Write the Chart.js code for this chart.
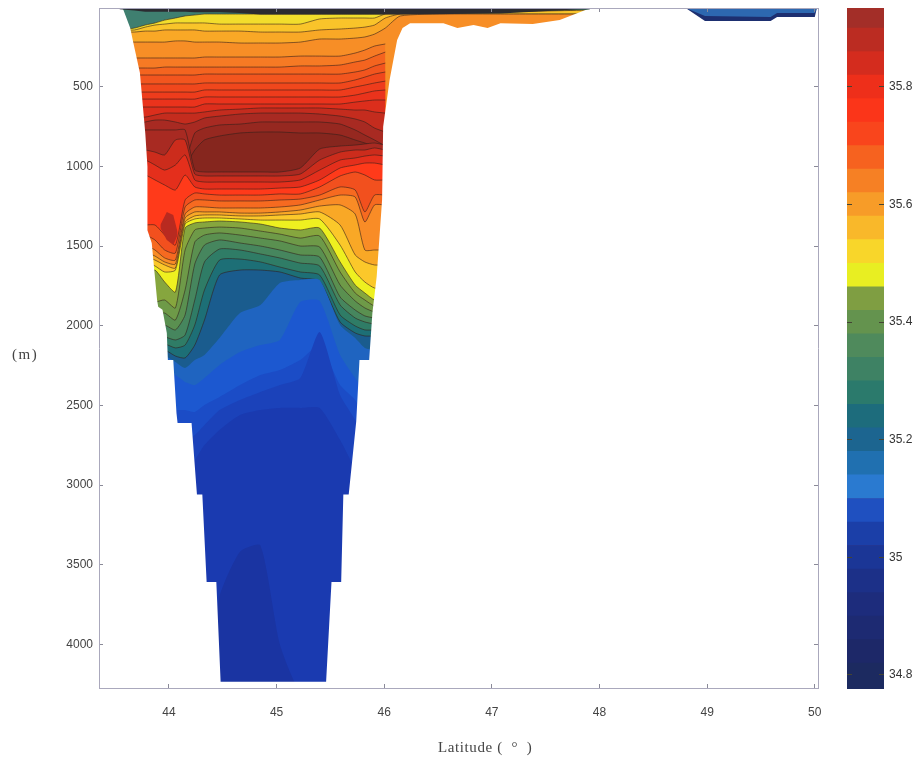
<!DOCTYPE html>
<html>
<head>
<meta charset="utf-8">
<title>Salinity section</title>
<script src="https://cdn.jsdelivr.net/npm/chart.js@4/dist/chart.umd.min.js"></script>
<style>
  html, body { margin: 0; padding: 0; background: #fff; }
  #page { position: relative; width: 919px; height: 760px; overflow: hidden; background: #fff; filter: blur(0.55px); }
  #section { position: absolute; left: 0; top: 0; }
  #scalebar { position: absolute; left: 847px; top: 0; }
  #depthLabel { position: absolute; left: 12px; top: 346px; font: 15px "Liberation Serif", serif; letter-spacing: 1.5px; color: #444; }
  #latLabel { position: absolute; left: 438px; top: 739px; font: 15px "Liberation Serif", serif; letter-spacing: 0.6px; white-space: pre; color: #444; }
</style>
</head>
<body>
<div id="page">
  <canvas id="section" width="919" height="760"></canvas>
  <canvas id="scalebar" width="72" height="760"></canvas>
  <span id="depthLabel">(m)</span>
  <span id="latLabel">Latitude (  °  )</span>
</div>
<script>
// axis ticks
const latTicks = [44, 45, 46, 47, 48, 49, 50];
const depthTicks = [500, 1000, 1500, 2000, 2500, 3000, 3500, 4000];
const salinityTicks = [34.8, 35, 35.2, 35.4, 35.6, 35.8];

// latitude of the sampled columns
const lats = [43.54,43.68,43.78,43.87,43.96,44.06,44.15,44.24,44.33,44.47,44.66,44.85,45.03,45.22,45.40,45.59,45.73,45.82,45.91,46.01,46.15,46.61,47.08,47.91];

// depth (m) of the top of each band, read from the section, surface to bottom
const teal = [0,0,0,0,0,0,0,0,0,0,0,0,0,0,0,0,0,0,0,0,0,0,0,0];
const lens1 = [142,130,111,98,80,67,54,48,42,42,42,42,42,42,42,42,42,42,42,42,42,36,29,17];
const lens2 = [142,142,124,111,105,98,98,98,98,105,105,105,105,105,73,67,67,67,67,42,42,36,29,17];
const orange1 = [155,155,149,149,142,142,142,142,149,149,149,155,155,155,142,136,130,124,111,67,42,42,42,42];
const orange2 = [218,218,218,218,218,211,211,218,218,218,224,224,224,218,199,199,193,186,168,130,54,42,42,42];
const orange3 = [318,318,318,318,318,318,318,318,312,312,312,312,312,306,306,306,287,268,243,230];
const red1 = [381,381,381,381,375,375,375,375,375,375,375,375,375,368,368,362,343,331,306,281];
const red2 = [425,425,425,425,425,425,425,425,419,419,419,419,419,419,419,419,406,393,368,350];
const red3 = [481,481,481,481,481,481,481,481,475,475,475,475,475,475,475,475,456,438,419,406];
const red4 = [532,532,532,532,532,532,532,532,519,519,519,519,519,519,519,519,500,488,475,463];
const red5 = [576,576,576,576,576,576,576,576,563,563,563,563,563,563,563,563,551,538,525,519];
const red6 = [626,626,626,626,626,626,626,626,607,607,607,607,607,607,607,607,595,588,582,582];
const red7 = [689,689,689,676,664,664,664,664,657,645,639,632,632,632,632,639,645,645,657,664];
const core1 = [739,739,720,708,708,720,733,720,695,683,670,664,664,664,670,683,701,720,758,783];
const core2 = [959,959,959,959,959,959,959,789,758,739,733,720,720,720,720,733,770,802,833,871];
const core3 = [990,990,990,990,990,990,990,896,833,808,789,783,783,789,789,802,833,852,871,871];
const under1 = [770,770,770,770,770,770,770,1022,1034,1034,1034,1034,1034,1009,890,871,865,858,852,865];
const under2 = [896,896,896,909,927,833,833,1047,1059,1059,1059,1059,1059,1047,959,909,896,896,883,896];
const under3 = [959,959,959,990,1022,990,927,1084,1097,1097,1097,1097,1097,1084,1022,959,946,934,927,934];
const under4 = [1053,1053,1053,1084,1116,1147,1053,1128,1141,1141,1141,1141,1135,1128,1084,1009,990,978,978,990];
const under5 = [1367,1367,1367,1367,1430,1493,1210,1166,1172,1179,1179,1179,1172,1172,1128,1059,1034,1053,1084,1084];
const under6 = [1430,1430,1430,1461,1524,1543,1254,1210,1210,1216,1216,1216,1210,1204,1179,1128,1147,1285,1179,1179];
const under7 = [1493,1493,1493,1524,1574,1587,1298,1254,1254,1260,1260,1260,1254,1241,1210,1179,1191,1348,1241,1241];
const under8 = [1537,1537,1537,1562,1599,1612,1323,1285,1285,1285,1292,1292,1285,1273,1248,1241,1298,1524,1524,1524];
const under9 = [1562,1562,1562,1587,1618,1637,1348,1310,1304,1304,1310,1310,1304,1298,1285,1367,1555,1599,1618,1618];
const yellow = [1599,1599,1599,1624,1662,1650,1361,1329,1323,1323,1329,1336,1336,1336,1329,1493,1662,1725,1763,1763];
const green1 = [1662,1662,1662,1650,1725,1788,1386,1354,1348,1342,1348,1361,1386,1398,1386,1599,1744,1794,1838,1838];
const green2 = [1838,1838,1838,1851,1838,1888,1524,1398,1386,1380,1386,1405,1424,1449,1436,1662,1794,1838,1876,1876];
const green3 = [1913,1913,1913,1926,1920,1964,1775,1474,1430,1417,1430,1449,1467,1499,1505,1744,1844,1888,1913,1913];
const green4 = [1995,1995,1995,2001,1995,2026,1932,1612,1493,1461,1480,1499,1524,1555,1568,1819,1901,1938,1951,1951];
const teal1 = [2077,2077,2077,2077,2070,2089,2058,1838,1599,1518,1524,1549,1574,1606,1624,1869,1951,1976,1989,1989];
const teal2 = [2121,2121,2121,2121,2114,2139,2121,1995,1775,1587,1581,1599,1631,1662,1681,1932,2001,2026,2026,2026];
const teal3 = [2165,2165,2165,2165,2152,2190,2202,2121,1964,1681,1650,1650,1662,1700,1719,1976,2045,2064,2064,2064];
const blue1 = [2202,2202,2202,2202,2190,2227,2265,2215,2183,2077,1920,1869,1731,1712,1712,1995,2077,2139,2152,2152];
const blue2 = [2309,2309,2309,2309,2290,2309,2353,2372,2328,2246,2165,2121,2089,1851,1844,2183,2328,2403,2403,2403];
const blue3 = [2529,2529,2529,2529,2529,2529,2529,2541,2497,2447,2372,2309,2278,2215,2121,2372,2466,2592,2592,2592];
const blue4 = [2717,2717,2717,2717,2717,2717,2717,2686,2623,2529,2466,2416,2372,2328,2039,2435,2592,2717,2717,2717];
const blue5 = [2906,2906,2906,2906,2906,2906,2906,2843,2749,2654,2560,2529,2516,2516,2516,2717,2906,3094,3094,3094];
const blue6 = [4300,4300,4300,4300,4300,4300,4300,4300,4300,3700,3420,3380,4000,4300,4300,4300,4300,4300,4300,4300];

// dark skin on the surface
const skin = [12,20,28,28,28,28,28,30,30,30,35,45,45,45,45,45,45,45,45,45,45,42,38,8];

// sea bed, everything under it is white
const bedLat = [43.35,43.57,43.64,43.67,43.73,43.78,43.80,43.80,43.84,43.89,43.90,43.94,43.98,43.99,44.04,44.07,44.08,44.21,44.26,44.31,44.35,44.44,44.48,45.46,45.51,45.60,45.62,45.67,45.74,45.77,45.86,45.89,45.93,45.98,45.99,46.05,46.12,46.17,46.24,46.45,46.55,46.68,46.83,46.96,47.08,47.38,47.63,47.87,48.0,50.03];
const bedDepth = [0,4,130,225,410,790,1000,1400,1480,1840,1880,1900,2045,2215,2215,2550,2610,2610,3060,3060,3610,3610,4235,4235,3610,3610,3060,3060,2600,2215,2215,1920,1690,1210,750,455,205,130,100,100,100,130,110,130,100,105,80,17,4,4];

// small dark red patch on the south slope
const patchLat = [43.92,43.98,44.04,44.08];
const patchTop = [1367,1285,1304,1411];
const patchBottom = [1386,1461,1493,1430];

// the northern shelf strip
const northLat = [48.80,48.98,49.59,49.65,50.0,50.02];
const northDepth = [4,85,85,60,60,4];
const northInnerDepth = [4,55,60,35,35,4];

// colour bar
const barLevels = [34.776,34.82,34.86,34.90,34.94,34.98,35.02,35.06,35.10,35.14,35.18,35.22,35.26,35.30,35.34,35.38,35.42,35.46,35.50,35.54,35.58,35.62,35.66,35.70,35.74,35.78,35.82,35.86,35.90,35.934];
const barColors = ['#1c2a60','#1d2868','#1d2a72','#1d2c7c','#1c3088','#1b3696','#1b3fa8','#1f50c0','#2a7ad0','#2070b0','#1c6590','#1d6c7c','#2b7a6c','#3e8264','#4f8a5c','#64934e','#7f9e42','#e8ee22','#f8d62a','#f9b82a','#f79c28','#f68024','#f6621f','#f9451c','#fb3519','#ee2f1a','#d42c1e','#bb2c22','#a32e28','#8e3030'];

const layerStack = [teal,lens1,lens2,orange1,orange2,orange3,red1,red2,red3,red4,red5,red6,red7,core1,core2,core3,under1,under2,under3,under4,under5,under6,under7,under8,under9,yellow,green1,green2,green3,green4,teal1,teal2,teal3,blue1,blue2,blue3,blue4,blue5,blue6];
const layerColors = ['#3f7f70','#f2dd2c','#f9c42a','#f9a826','#f78e26','#f67a24','#f4641f','#f2551e','#f0471c','#ee3c1c','#ea331c','#dc2e1c','#c42c1e','#a82a22','#962820','#86261e','#a82a22','#cc2c1c','#e42f1c','#ff3a1a','#f2501e','#f66a20','#f98c26','#f9a826','#fbc82a','#eef020','#86a63e','#6e9a48','#5a9050','#46865e','#2f7c66','#1d6f76','#1a5c8e','#1f64c0','#1c58d0','#1b4cc6','#1b42ba','#1a3ab0','#1a34a2'];
const contourCount = 33; // the blues have no contour lines

const depthMin = 4, depthMax = 4275, latMin = 43.35, latMax = 50.03;
const axisColor = '#aaa8bc';
const labelFont = { family: '"Liberation Sans", Arial, sans-serif', size: 12 };

function pts(xs, ys) { return ys.map((y, i) => ({ x: xs[i], y })); }

const datasets = layerStack.map((layer, i) => ({
  data: pts(lats, layer),
  backgroundColor: layerColors[i],
  borderColor: i < contourCount ? 'rgba(50,30,25,0.65)' : layerColors[i],
  borderWidth: i < contourCount ? 0.9 : 0,
  tension: 0.2,
  pointRadius: 0,
  fill: { value: depthMax },
  order: 100 - i
}));

datasets.push(
  { data: pts(bedLat, bedDepth), backgroundColor: '#fff', borderWidth: 0, pointRadius: 0, fill: { value: depthMax }, order: 5 },
  { data: pts(lats, skin), backgroundColor: '#2b2b30', borderWidth: 0, pointRadius: 0, fill: { value: 0 }, order: 4 },
  { data: pts(patchLat, patchTop), backgroundColor: '#b82a20', borderWidth: 0, pointRadius: 0, fill: '+1', order: 3 },
  { data: pts(patchLat, patchBottom), borderWidth: 0, pointRadius: 0, fill: false, order: 3 },
  { data: pts(northLat, northDepth), backgroundColor: '#1d2f70', borderWidth: 0, pointRadius: 0, fill: { value: 0 }, order: 2 },
  { data: pts(northLat, northInnerDepth), backgroundColor: '#2d68b0', borderWidth: 0, pointRadius: 0, fill: { value: 0 }, order: 1 }
);

function setTicks(list) {
  return scale => { scale.ticks = list.map(value => ({ value })); };
}

const tickGrid = { drawOnChartArea: false, tickLength: -4, color: '#8a8a98', z: 1 };
const edge = { color: axisColor, width: 1, z: 1 };

// fix the box of an axis and drop the room it asks for its end labels
function fitX(h) { return s => { s.height = h; s.paddingLeft = 0; s.paddingRight = 0; }; }
function fitY(w) { return s => { s.width = w; s.paddingTop = 0; s.paddingBottom = 0; }; }

new Chart(document.getElementById('section'), {
  type: 'line',
  data: { datasets },
  options: {
    responsive: false,
    animation: false,
    layout: { padding: 0 },
    plugins: { legend: { display: false }, tooltip: { enabled: false } },
    scales: {
      x: {
        type: 'linear', min: latMin, max: latMax, position: 'bottom',
        grid: tickGrid, border: edge,
        afterBuildTicks: setTicks(latTicks),
        afterFit: fitX(72),
        ticks: { padding: 21, color: '#444', font: labelFont, maxRotation: 0, callback: v => String(v) }
      },
      x2: {
        type: 'linear', min: latMin, max: latMax, position: 'top',
        grid: tickGrid, border: edge,
        afterBuildTicks: setTicks(latTicks),
        afterFit: fitX(8),
        ticks: { display: false }
      },
      y: {
        type: 'linear', min: depthMin, max: depthMax, reverse: true, position: 'left',
        grid: tickGrid, border: edge,
        afterBuildTicks: setTicks(depthTicks),
        afterFit: fitY(99),
        ticks: { padding: 10, color: '#444', font: labelFont, callback: v => String(v) }
      },
      y2: {
        type: 'linear', min: depthMin, max: depthMax, reverse: true, position: 'right',
        grid: tickGrid, border: edge,
        afterBuildTicks: setTicks(depthTicks),
        afterFit: fitY(101),
        ticks: { display: false }
      }
    }
  }
});

// colour bar, one floating bar per level
const barSets = barColors.map((c, i) => ({
  data: [[barLevels[i], barLevels[i + 1]]],
  backgroundColor: c,
  borderWidth: 0,
  barPercentage: 1,
  categoryPercentage: 1
}));

const barGrid = { drawOnChartArea: false, tickLength: -5, color: '#443', z: 1 };

new Chart(document.getElementById('scalebar'), {
  type: 'bar',
  data: { labels: [''], datasets: barSets },
  options: {
    responsive: false,
    animation: false,
    grouped: false,
    layout: { padding: { top: 8, bottom: 71 } },
    plugins: { legend: { display: false }, tooltip: { enabled: false } },
    scales: {
      x: { display: false },
      y: {
        min: 34.776, max: 35.934, position: 'right',
        grid: barGrid, border: { display: false },
        afterBuildTicks: setTicks(salinityTicks),
        afterFit: fitY(35),
        ticks: { padding: 10, color: '#333', font: labelFont, callback: v => String(+v.toFixed(1)) }
      },
      y1: {
        min: 34.776, max: 35.934, position: 'left',
        grid: barGrid, border: { display: false },
        afterBuildTicks: setTicks(salinityTicks),
        afterFit: fitY(0),
        ticks: { display: false }
      }
    }
  }
});
</script>
</body>
</html>
